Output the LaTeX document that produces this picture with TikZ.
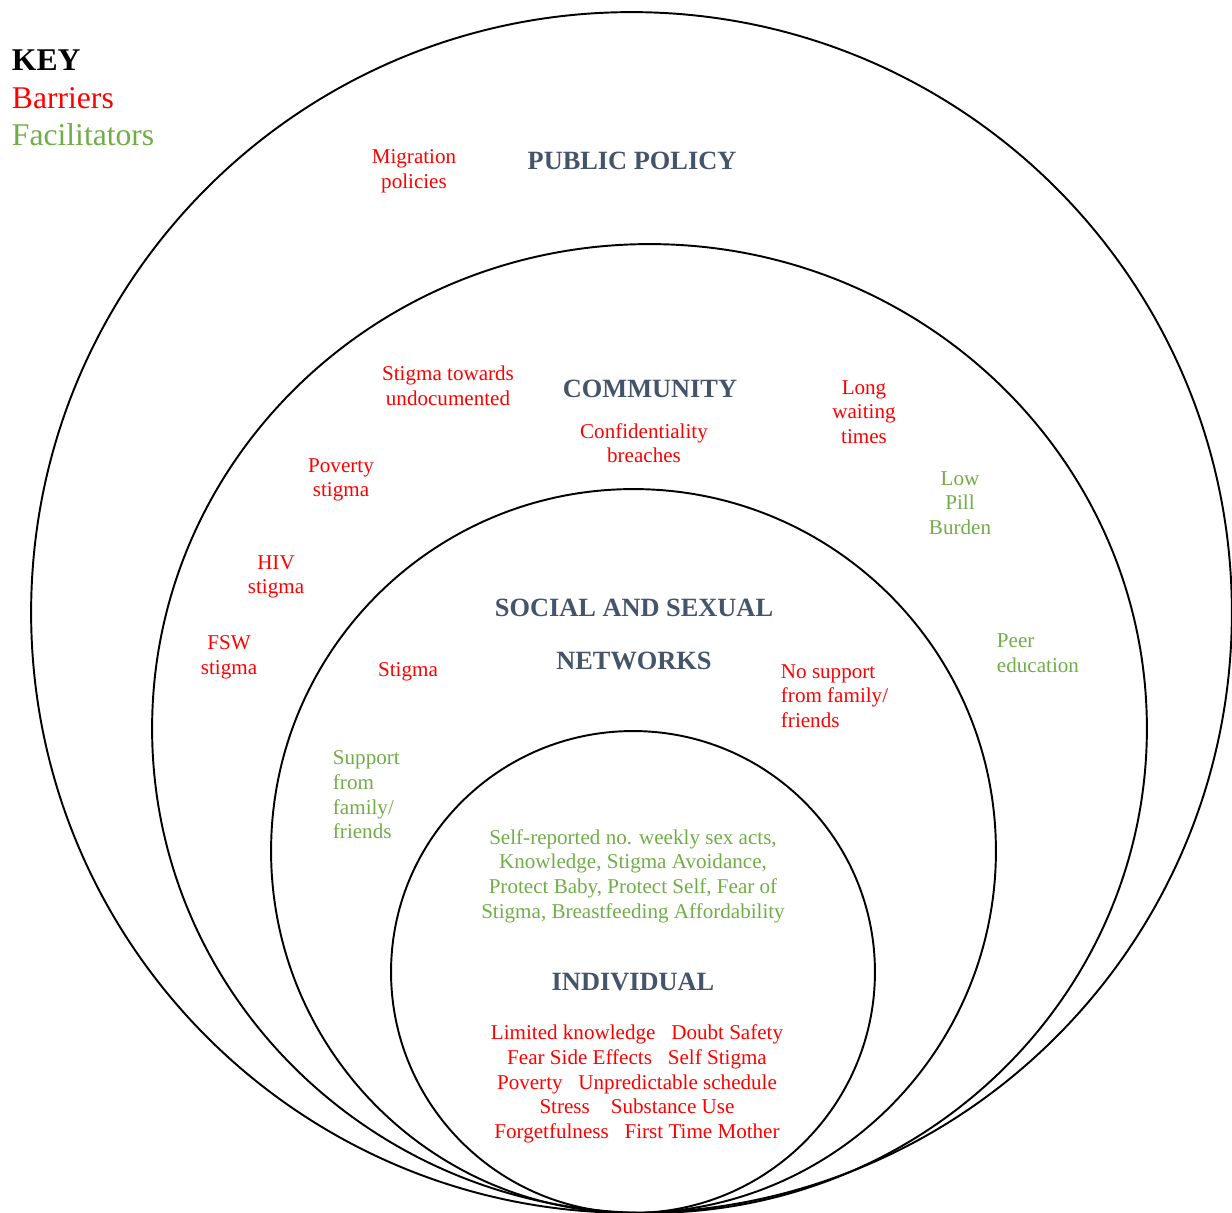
\documentclass[tikz,border=0pt]{standalone}
\usepackage{fontspec}
\setmainfont{Liberation Serif}
\usepackage{tikz}
\usepackage{xcolor}
\definecolor{barrierred}{HTML}{FF0000}
\definecolor{facilgreen}{HTML}{70AD47}
\definecolor{levelgray}{HTML}{44546A}

\begin{document}
\begin{tikzpicture}[x=0.02cm,y=-0.02cm,line width=1.1pt,
  barrierlbl/.style={text=barrierred,font=\fontsize{12}{14}\selectfont,align=center,inner sep=0pt},
  facillbl/.style={text=facilgreen,font=\fontsize{12}{14}\selectfont,align=center,inner sep=0pt},
  levellbl/.style={text=levelgray,font=\fontsize{15}{18}\selectfont\bfseries,inner sep=0pt},
  keylbl/.style={font=\fontsize{18}{21}\selectfont,anchor=west,inner sep=0pt}]
\useasboundingbox (0,0) rectangle (1232,1213);
% nested levels, all touching at the bottom
\draw (631.5,612.5) ellipse [x radius=12.01cm, y radius=12.01cm];
\draw (649.5,728.5) ellipse [x radius=9.95cm, y radius=9.69cm];
\draw (633.5,851) ellipse [x radius=7.25cm, y radius=7.24cm];
\draw (633,972) ellipse [x radius=4.84cm, y radius=4.82cm];
% key
\node[keylbl,font=\fontsize{18}{21}\selectfont\bfseries] (key) at (11,60) {KEY};
\node[keylbl,text=barrierred] (keybar) at (11,98) {Barriers};
\node[keylbl,text=facilgreen] (keyfac) at (11,135) {Facilitators};
% public policy
\node[levellbl] (policy) at (632,161) {PUBLIC POLICY};
\node[barrierlbl] (migration) at (414,171) {Migration\\policies};
% community
\node[levellbl] (community) at (650,389) {COMMUNITY};
\node[barrierlbl] (undoc) at (448,386) {Stigma towards\\undocumented};
\node[barrierlbl] (confid) at (644,443) {Confidentiality\\breaches};
\node[barrierlbl] (waiting) at (864,412) {Long\\waiting\\times};
\node[barrierlbl] (poverty) at (341,480) {Poverty\\stigma};
\node[facillbl] (pill) at (960,503) {Low\\Pill\\Burden};
\node[barrierlbl] (hiv) at (276,577) {HIV\\stigma};
\node[barrierlbl] (fsw) at (229,657) {FSW\\stigma};
\node[facillbl,anchor=west,align=left] (peer) at (996,653) {Peer\\education};
% social and sexual networks
\node[levellbl] (social) at (634,608) {SOCIAL AND SEXUAL};
\node[levellbl] (networks) at (634,661) {NETWORKS};
\node[barrierlbl] (stigma) at (408,672) {Stigma};
\node[barrierlbl,anchor=west,align=left] (nosupport) at (780,696) {No support\\from family/\\friends};
\node[facillbl,anchor=west,align=left] (support) at (332,795) {Support\\from\\family/\\friends};
% individual
\node[facillbl] (indfac) at (633,876) {Self-reported no. weekly sex acts,\\Knowledge, Stigma Avoidance,\\Protect Baby, Protect Self, Fear of\\Stigma, Breastfeeding Affordability};
\node[levellbl] (individual) at (633,982) {INDIVIDUAL};
\node[barrierlbl] (indbar) at (637,1084) {Limited knowledge\hspace{9pt}Doubt Safety\\
  Fear Side Effects\hspace{9pt}Self Stigma\\
  Poverty\hspace{9pt}Unpredictable schedule\\
  Stress\hspace{12pt}Substance Use\\
  Forgetfulness\hspace{9pt}First Time Mother};
\end{tikzpicture}
\end{document}
